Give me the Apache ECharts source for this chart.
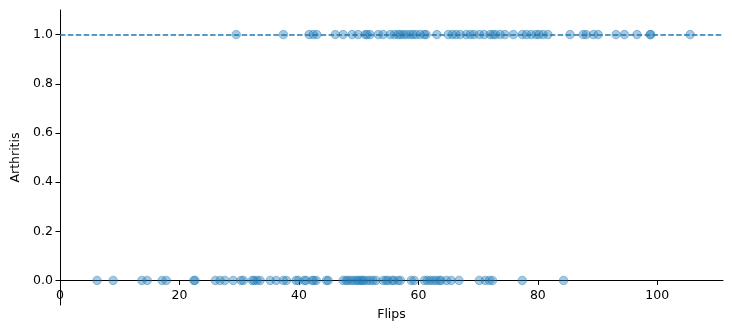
<!DOCTYPE html>
<html>
<head>
<meta charset="utf-8">
<script src="https://cdn.jsdelivr.net/npm/echarts@6/dist/echarts.min.js"></script>
<style>html,body{margin:0;padding:0;background:#fff}#c{width:732px;height:332px}</style>
</head>
<body>
<div id="c"></div>
<script>
const flipsArthritis = [29.5,37.4,41.7,42.4,43.0,46.1,47.4,48.9,49.9,51.1,51.4,51.9,53.3,54.1,55.3,56.0,56.6,57.0,57.5,58.0,58.6,59.1,59.6,60.3,61.0,61.3,63.1,65.0,65.7,66.3,67.0,68.0,68.7,69.3,70.2,71.0,72.0,72.5,72.9,73.7,74.5,75.9,77.4,78.1,78.9,79.7,80.2,80.9,81.7,85.4,87.6,88.1,89.3,90.1,93.1,94.5,96.6,98.8,98.9,105.5];
const flipsNoArthritis = [6.2,8.9,13.7,14.6,17.1,17.8,22.4,22.6,26.0,26.8,27.6,29.0,30.3,30.7,32.2,32.5,33.0,33.5,35.2,36.2,37.4,37.9,39.5,39.9,40.9,41.2,42.2,42.5,42.9,44.6,44.9,47.4,47.9,48.2,48.7,49.1,49.6,49.9,50.3,50.6,50.9,51.4,51.9,52.4,52.9,54.1,54.6,54.9,55.6,55.9,56.6,57.0,58.8,59.3,61.0,61.5,62.0,62.5,63.0,63.5,63.8,64.7,65.5,66.8,70.2,71.2,71.9,72.4,77.4,84.3];
const xTicks = [0,20,40,60,80,100];
const yTicks = [0,0.2,0.4,0.6,0.8,1.0];
const refLineY = 1.0;

const data = flipsArthritis.map(x => [x, 1]).concat(flipsNoArthritis.map(x => [x, 0]));
const font = 'DejaVu Sans';
const chart = echarts.init(document.getElementById('c'), null, {renderer: 'canvas'});
chart.setOption({
  animation: false,
  grid: {left: 60, right: 9, top: 10, bottom: 27, containLabel: false, outerBoundsMode: 'none'},
  xAxis: {
    type: 'value', min: 0, max: 111,
    offset: -24.6,
    name: 'Flips', nameLocation: 'middle', nameGap: 28,
    nameTextStyle: {fontFamily: font, fontSize: 12.5, color: '#000'},
    axisLine: {onZero: false, lineStyle: {color: '#000', width: 1}},
    axisTick: {show: true, length: 4.5, customValues: xTicks, lineStyle: {color: '#000'}},
    axisLabel: {customValues: xTicks, margin: 9, fontFamily: font, fontSize: 12.5, color: '#000'},
    splitLine: {show: false}
  },
  yAxis: {
    type: 'value', min: -0.1, max: 1.1,
    name: 'Arthritis', nameLocation: 'middle', nameGap: 38, nameRotate: 90,
    nameTextStyle: {fontFamily: font, fontSize: 12.5, color: '#000'},
    axisLine: {show: true, onZero: false, lineStyle: {color: '#000', width: 1}},
    axisTick: {show: true, length: 4.5, customValues: yTicks, lineStyle: {color: '#000'}},
    axisLabel: {customValues: yTicks, margin: 7, fontFamily: font, fontSize: 12.5, color: '#000',
      formatter: v => v.toFixed(1)},
    splitLine: {show: false}
  },
  series: [{
    type: 'scatter',
    data: data,
    symbolSize: 8.5,
    itemStyle: {color: 'rgba(31,119,180,0.5)', borderColor: 'rgba(31,119,180,0.5)', borderWidth: 1},
    markLine: {
      silent: true, symbol: 'none', label: {show: false},
      lineStyle: {color: '#1f77b4', width: 1.5, type: [5.5, 2.4], opacity: 1},
      data: [{yAxis: refLineY}]
    }
  }]
});
</script>
</body>
</html>
